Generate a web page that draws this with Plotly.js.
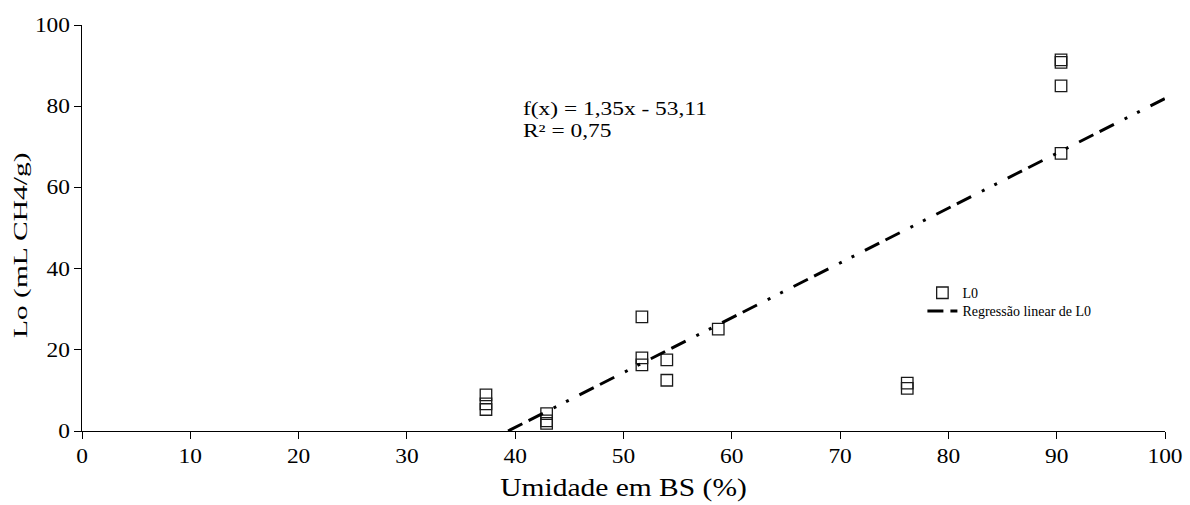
<!DOCTYPE html>
<html>
<head>
<meta charset="utf-8">
<script src="https://cdn.plot.ly/plotly-3.0.1.min.js"></script>
<style>
  html, body { margin: 0; padding: 0; background: #fff; }
  #chart { width: 1190px; height: 505px; }
</style>
</head>
<body>
<div id="chart"></div>
<script>
// Data
const umidadeBS = [37.3, 37.3, 37.3, 42.9, 42.9, 42.9, 51.7, 51.7, 51.7, 54.0, 54.0, 58.75, 76.2, 76.2, 90.4, 90.4, 90.4, 90.4];
const loValues  = [8.9, 6.7, 5.3, 4.3, 2.5, 1.9, 28.1, 18.0, 16.3, 17.5, 12.5, 25.1, 11.8, 10.5, 91.4, 90.8, 85.0, 68.4];

// Regression coefficients shown on the chart
const regSlope = 1.35;
const regIntercept = -53.11;
const regR2 = 0.75;
const xAxisMax = 100;

const xTicks = [0, 10, 20, 30, 40, 50, 60, 70, 80, 90, 100];
const yTicks = [0, 20, 40, 60, 80, 100];

const fmt = v => v.toFixed(2).replace('.', ',');
const regX = [-regIntercept / regSlope, xAxisMax];
const regY = regX.map(x => regSlope * x + regIntercept);

const FONT = 'Liberation Serif, Times New Roman, serif';

const traces = [
  {
    x: umidadeBS, y: loValues, type: 'scatter', mode: 'markers', name: 'L0', legend: 'legend',
    marker: { symbol: 'square-open', size: 11.5, color: '#1a1a1a', line: { width: 1.3, color: '#1a1a1a' } },
    cliponaxis: false
  },
  {
    x: regX, y: regY, type: 'scatter', mode: 'lines', name: 'Regressão linear de L0', legend: 'legend2',
    line: { color: '#000', width: 3, dash: '16px,7px,16px,12px,3px,11px,3px,12px' }
  }
];

function legendAt(x, y) {
  return {
    x: x, y: y, xanchor: 'left', yanchor: 'top', bgcolor: 'rgba(0,0,0,0)',
    font: { family: FONT, size: 14, color: '#000' }
  };
}

const layout = {
  width: 1190, height: 505,
  margin: { l: 82, r: 25, t: 25, b: 74 },
  paper_bgcolor: '#fff', plot_bgcolor: '#fff',
  font: { family: FONT, color: '#000', size: 14 },
  xaxis: {
    range: [0, 100], tickvals: xTicks, ticktext: xTicks.map(String),
    showline: true, linecolor: '#000', linewidth: 1,
    ticks: 'outside', ticklen: 7, tickcolor: '#000', tickwidth: 1,
    showgrid: false, zeroline: false,
    tickfont: { family: FONT, size: 20, color: '#000' },
    title: { text: 'Umidade em BS (%)', font: { family: FONT, size: 25, color: '#000' }, standoff: 12 }
  },
  yaxis: {
    range: [0, 100], tickvals: yTicks, ticktext: yTicks.map(String),
    showline: true, linecolor: '#000', linewidth: 1,
    ticks: 'outside', ticklen: 7, tickcolor: '#000', tickwidth: 1,
    showgrid: false, zeroline: false,
    tickfont: { family: FONT, size: 20, color: '#000' }
  },
  showlegend: true,
  legend: legendAt(0.776, 0.379),
  legend2: legendAt(0.776, 0.334),
  annotations: [
    { xref: 'x', yref: 'y', x: 40.5, y: 79.3, xanchor: 'left', yanchor: 'middle', showarrow: false,
      text: 'f(x) = ' + fmt(regSlope) + 'x - ' + fmt(-regIntercept), font: { family: FONT, size: 18, color: '#000' } },
    { xref: 'x', yref: 'y', x: 40.5, y: 74.0, xanchor: 'left', yanchor: 'middle', showarrow: false,
      text: 'R² = ' + fmt(regR2), font: { family: FONT, size: 18, color: '#000' } },
    // y-axis title (placed as annotation to match the reference's vertical offset)
    { xref: 'paper', yref: 'paper', x: -0.0563, y: 0.458, xanchor: 'center', yanchor: 'middle', showarrow: false,
      textangle: -90, text: 'Lo (mL CH4/g)', font: { family: FONT, size: 19, color: '#000' } }
  ]
};

// Horizontal glyph stretch (the reference text is wider than Times at the same height).
function stretchEl(t, f, keepLeft) {
  if (!t.dataset.origLen) {
    t.removeAttribute('textLength');
    const L0 = t.getComputedTextLength();
    if (!(L0 > 0)) return;
    t.dataset.origLen = String(L0);
    t.dataset.origX = t.getAttribute('x') || '0';
  }
  const L = parseFloat(t.dataset.origLen);
  t.setAttribute('textLength', (L * f).toFixed(2));
  t.setAttribute('lengthAdjust', 'spacingAndGlyphs');
  if (keepLeft) {
    t.setAttribute('x', (parseFloat(t.dataset.origX) + (f - 1) * L / 2).toFixed(2));
  }
}

function applyStretch() {
  const q = s => Array.from(document.querySelectorAll(s));
  q('.xtick text').forEach(t => stretchEl(t, 1.17));
  q('.ytick text').forEach(t => stretchEl(t, 1.17));
  q('.g-xtitle text').forEach(t => stretchEl(t, 1.18));
  const ann = q('.annotation-text');
  ann.forEach((t, i) => stretchEl(t, i < 2 ? 1.3 : 1.55, i < 2));
}

const gd = document.getElementById('chart');
Plotly.newPlot(gd, traces, layout, { staticPlot: true, displayModeBar: false }).then(() => {
  applyStretch();
  gd.on('plotly_afterplot', applyStretch);
});
</script>
</body>
</html>
